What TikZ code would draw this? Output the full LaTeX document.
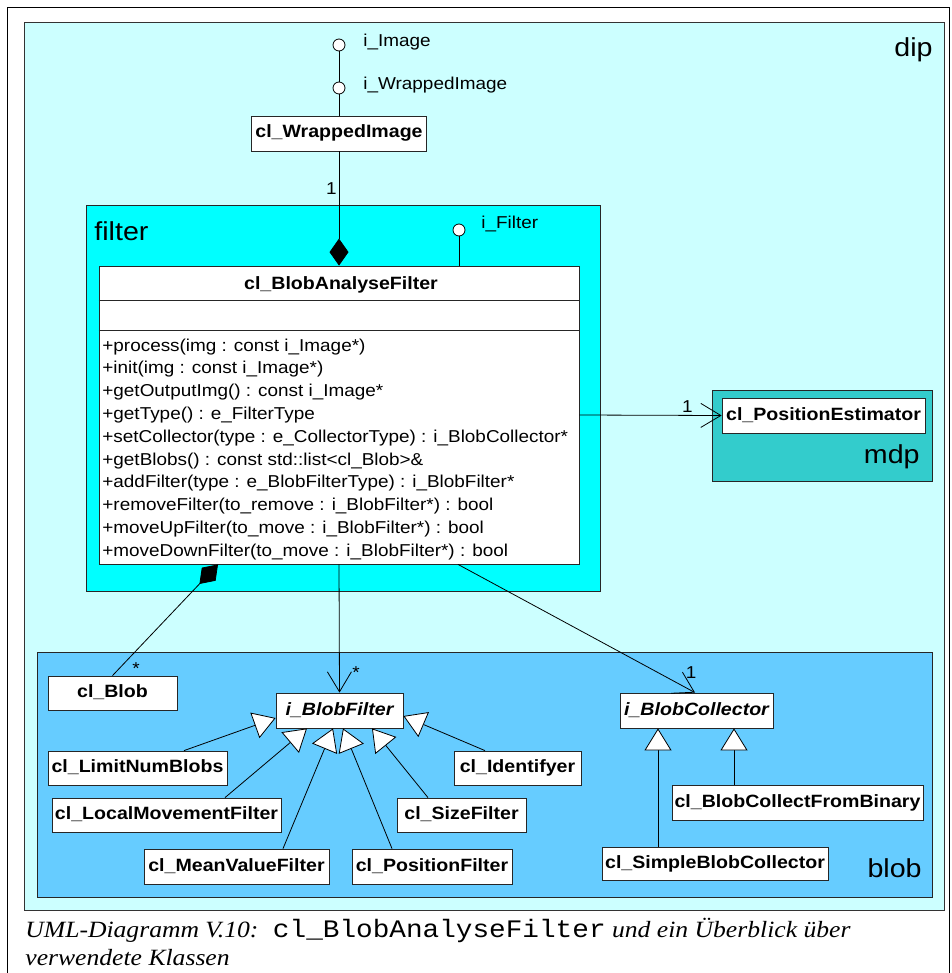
\documentclass[tikz,border=0pt]{standalone}
\usepackage{fontspec}
\setmainfont{Liberation Sans}[FakeStretch=1.1]
\newfontfamily\capserif{Liberation Serif}[FakeStretch=1.1]
\newfontfamily\capmono{Liberation Mono}[FakeStretch=1.1]
\usetikzlibrary{arrows.meta}
\definecolor{dipcol}{HTML}{CCFFFF}
\definecolor{filtercol}{HTML}{00FFFF}
\definecolor{mdpcol}{HTML}{33CCCC}
\definecolor{blobcol}{HTML}{66CCFF}

\begin{document}
\begin{tikzpicture}[x=1pt, y=-1pt, line width=0.8pt,
        cls/.style={draw=black!85, fill=white, inner sep=0pt, text height=13pt, text depth=4pt,
            font=\fontsize{17.8}{20}\selectfont\bfseries},
        icls/.style={cls, font=\fontsize{17.8}{20}\selectfont\bfseries\itshape},
        pkgname/.style={anchor=base, inner sep=0pt, font=\fontsize{26}{28}\selectfont},
        lbl/.style={anchor=base west, inner sep=0pt, font=\fontsize{17.2}{20}\selectfont},
        lolli/.style={circle, draw, fill=white, minimum size=12pt, inner sep=0pt},
        assoc/.style={-{Straight Barb[length=20pt,width=24pt]}},
        gen/.style={-{Triangle[fill=white,length=22pt,width=27pt]}},
        comp/.style={{Diamond[length=27pt,width=19pt]}-}]

        \useasboundingbox (0,0) rectangle (951,973);
        \draw (7,973) -- (7,7) -- (949.5,7) -- (949.5,973);

        % packages
        \draw[draw=black!80, fill=dipcol] (24,22) rectangle (944,910);
        \node[pkgname, anchor=base east] (dipname) at (933,57) {dip};
        \draw[draw=black!85, fill=filtercol] (86,205) rectangle (600,591);
        \node[pkgname, anchor=base west] (filtername) at (94,241) {filter};
        \draw[draw=black!85, fill=mdpcol] (712,390) rectangle (932,481);
        \node[pkgname, anchor=base east] (mdpname) at (920,463) {mdp};
        \draw[draw=black!85, fill=blobcol] (37,652) rectangle (932,897);
        \node[pkgname, anchor=base east] (blobname) at (922,877) {blob};

        % interfaces of cl_WrappedImage
        \node[lolli] (iimg) at (339,45) {};
        \node[lbl] (iimglbl) at (363,47) {i\_Image};
        \node[lolli] (iwimg) at (339,88) {};
        \node[lbl] (iwimglbl) at (363,90) {i\_WrappedImage};
        \node[cls, minimum width=175pt, minimum height=35pt] (wrapped) at (339,133.5) {cl\_WrappedImage};
        \draw (iimg) -- (iwimg) -- (wrapped);

        % cl_BlobAnalyseFilter
        \node[draw=black!85, fill=white, minimum width=480pt, minimum height=298pt, inner sep=0pt] (baf) at (339,415) {};
        \draw[draw=black!85] ([yshift=-35pt]baf.north west) -- ([yshift=-35pt]baf.north east);
        \draw[draw=black!85] ([yshift=-65pt]baf.north west) -- ([yshift=-65pt]baf.north east);
        \node[anchor=base, inner sep=0pt, font=\fontsize{17.8}{20}\selectfont\bfseries] (baftitle) at (341,289) {cl\_BlobAnalyseFilter};
        \foreach \m [count=\i from 0] in {
            {+process(img : const i\_Image*)},
            {+init(img : const i\_Image*)},
            {+getOutputImg() : const i\_Image*},
            {+getType() : e\_FilterType},
            {+setCollector(type : e\_CollectorType) : i\_BlobCollector*},
            {+getBlobs() : const std::list<cl\_Blob>\&},
            {+addFilter(type : e\_BlobFilterType) : i\_BlobFilter*},
            {+removeFilter(to\_remove : i\_BlobFilter*) : bool},
            {+moveUpFilter(to\_move : i\_BlobFilter*) : bool},
            {+moveDownFilter(to\_move : i\_BlobFilter*) : bool}} {
            \node[lbl] (op\i) at (102,351+22.8*\i) {\m};
        }

        \node[lolli] (ifil) at (459,230) {};
        \node[lbl] (ifillbl) at (481,229) {i\_Filter};
        \draw (ifil) -- (ifil |- baf.north);

        \draw[comp] (baf.north) -- (wrapped);
        \node[lbl, anchor=base east] (mwrapped) at (337,195) {1};

        % mdp
        \node[cls, minimum width=203pt, minimum height=35pt] (pest) at (823.5,415.5) {cl\_PositionEstimator};
        \draw[assoc] (baf.east) -- (pest.west);
        \node[lbl, anchor=base east] (mpest) at (693,412) {1};

        % blob
        \node[cls, minimum width=129pt, minimum height=34pt] (blob) at (112.5,693) {cl\_Blob};
        \node[icls, minimum width=127pt, minimum height=35pt] (ibf) at (339.5,710.5) {i\_BlobFilter};
        \node[icls, minimum width=153pt, minimum height=35pt] (ibc) at (696.5,710.5) {i\_BlobCollector};

        \draw[comp] ([xshift=-121pt]baf.south) -- (blob.north);
        \node[lbl, anchor=base] (mblob) at (136,674) {*};
        \draw[assoc] (baf.south) -- (ibf.north);
        \node[lbl, anchor=base] (mibf) at (356,678) {*};
        \draw[assoc] ([xshift=119pt]baf.south) -- ([xshift=-1.5pt]ibc.north);
        \node[lbl, anchor=base] (mibc) at (691,678) {1};

        \node[cls, minimum width=179pt, minimum height=34pt] (lnb) at (137.5,768) {cl\_LimitNumBlobs};
        \node[cls, minimum width=229pt, minimum height=34pt] (lmf) at (166.5,815) {cl\_LocalMovementFilter};
        \node[cls, minimum width=185pt, minimum height=35pt] (mvf) at (236.5,866.5) {cl\_MeanValueFilter};
        \node[cls, minimum width=160pt, minimum height=35pt] (pof) at (432,866.5) {cl\_PositionFilter};
        \node[cls, minimum width=129pt, minimum height=34pt] (szf) at (461.5,815) {cl\_SizeFilter};
        \node[cls, minimum width=127pt, minimum height=34pt] (idf) at (517.5,768) {cl\_Identifyer};
        \node[cls, minimum width=251pt, minimum height=35pt] (bcb) at (797.5,802.5) {cl\_BlobCollectFromBinary};
        \node[cls, minimum width=226pt, minimum height=33pt] (sbc) at (715,863.5) {cl\_SimpleBlobCollector};

        \draw[gen] ([xshift=46.5pt]lnb.north) -- ([yshift=-7.5pt]ibf.west);
        \draw[gen] ([xshift=58.5pt]lmf.north) -- ([xshift=-32.5pt]ibf.south);
        \draw[gen] ([xshift=46.5pt]mvf.north) -- ([xshift=-6.5pt]ibf.south);
        \draw[gen] ([xshift=-40pt]pof.north) -- ([xshift=3.5pt]ibf.south);
        \draw[gen] ([xshift=-33.5pt]szf.north) -- ([xshift=32.5pt]ibf.south);
        \draw[gen] ([xshift=-32.5pt]idf.north) -- ([yshift=-5.5pt]ibf.east);
        \draw[gen] ([xshift=-57pt]sbc.north) -- ([xshift=-38.5pt]ibc.south);
        \draw[gen] ([xshift=-63.5pt]bcb.north) -- ([xshift=37.5pt]ibc.south);

        % caption
        \node[anchor=base west, inner sep=0pt, font=\fontsize{23.3}{28}\selectfont\capserif\itshape] (cap1) at (25,937)
            {UML-Diagramm V.10:\hspace{6pt} {\capmono\upshape\fontsize{25.2}{28}\selectfont cl\_BlobAnalyseFilter} und ein Überblick über};
        \node[anchor=base west, inner sep=0pt, font=\fontsize{23.3}{28}\selectfont\capserif\itshape] (cap2) at (25,965)
            {verwendete Klassen};
\end{tikzpicture}
\end{document}
